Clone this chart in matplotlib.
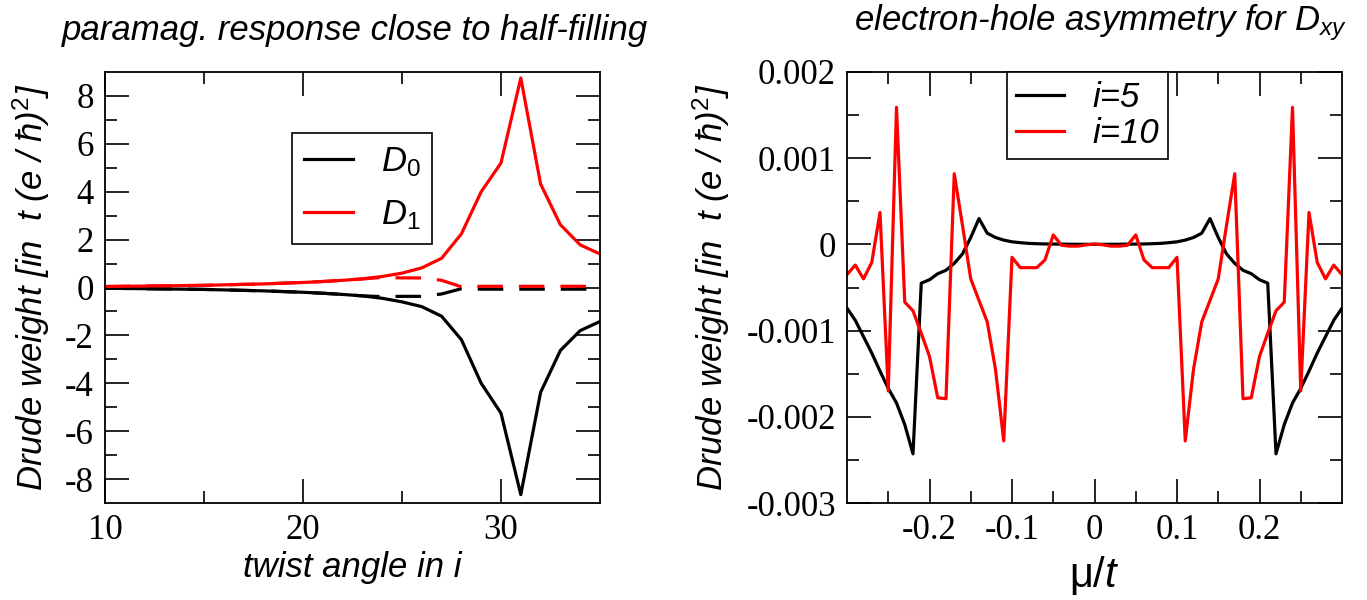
import matplotlib
matplotlib.use("Agg")
import matplotlib.pyplot as plt
from matplotlib.ticker import FixedLocator, FuncFormatter

plt.rcParams['font.family'] = ['Liberation Sans', 'DejaVu Sans']
plt.rcParams['mathtext.fontset'] = 'custom'
plt.rcParams['mathtext.rm'] = 'Liberation Sans'
plt.rcParams['mathtext.it'] = 'Liberation Sans:italic'
plt.rcParams['mathtext.default'] = 'it'
plt.rcParams['axes.unicode_minus'] = False

# left panel: Drude weights vs twist angle
twist = [10, 11, 12, 13, 14, 15, 16, 17, 18, 19, 20, 21, 22, 23,
         24, 25, 26, 27, 28, 29, 30, 31, 32, 33, 34, 35]
d0 = [-0.03, -0.04, -0.05, -0.06, -0.07, -0.08, -0.10, -0.12, -0.14, -0.17,
      -0.20, -0.24, -0.29, -0.35, -0.45, -0.60, -0.80, -1.20, -2.18, -4.00,
      -5.25, -8.65, -4.38, -2.63, -1.80, -1.42]
d1 = [0.04, 0.05, 0.06, 0.07, 0.08, 0.09, 0.11, 0.13, 0.15, 0.18,
      0.21, 0.25, 0.30, 0.36, 0.46, 0.60, 0.82, 1.22, 2.24, 4.00,
      5.20, 8.75, 4.32, 2.62, 1.78, 1.40]
d0_dash = [-0.03, -0.04, -0.05, -0.06, -0.07, -0.08, -0.10, -0.12, -0.14, -0.17,
           -0.20, -0.24, -0.29, -0.35, -0.38, -0.37, -0.37, -0.27, -0.05, -0.07,
           -0.07, -0.07, -0.07, -0.07, -0.07, -0.07]
d1_dash = [0.04, 0.05, 0.06, 0.07, 0.08, 0.09, 0.11, 0.13, 0.15, 0.18,
           0.21, 0.25, 0.30, 0.36, 0.42, 0.40, 0.40, 0.30, 0.03, 0.05,
           0.05, 0.05, 0.05, 0.05, 0.05, 0.05]

# right panel: D_xy vs chemical potential
mu = [-0.30, -0.29, -0.28, -0.27, -0.26, -0.25, -0.24, -0.23, -0.22, -0.21,
      -0.20, -0.19, -0.18, -0.17, -0.16, -0.15, -0.14, -0.13, -0.12, -0.11,
      -0.10, -0.09, -0.08, -0.07, -0.06, -0.05, -0.04, -0.03, -0.02, -0.01,
      0.00, 0.01, 0.02, 0.03, 0.04, 0.05, 0.06, 0.07, 0.08, 0.09,
      0.10, 0.11, 0.12, 0.13, 0.14, 0.15, 0.16, 0.17, 0.18, 0.19,
      0.20, 0.21, 0.22, 0.23, 0.24, 0.25, 0.26, 0.27, 0.28, 0.29, 0.30]
dxy_i5 = [-0.74e-3, -0.88e-3, -1.07e-3, -1.26e-3, -1.47e-3, -1.67e-3, -1.84e-3, -2.09e-3, -2.43e-3, -0.45e-3,
          -0.41e-3, -0.34e-3, -0.30e-3, -0.22e-3, -0.11e-3, 0.08e-3, 0.30e-3, 0.13e-3, 0.08e-3, 0.05e-3,
          0.03e-3, 0.02e-3, 0.012e-3, 0.008e-3, 0.005e-3, 0.004e-3, 0.003e-3, 0.002e-3, 0.001e-3, 0.001e-3,
          0.0,
          0.001e-3, 0.001e-3, 0.002e-3, 0.003e-3, 0.004e-3, 0.005e-3, 0.008e-3, 0.012e-3, 0.02e-3, 0.03e-3,
          0.05e-3, 0.08e-3, 0.13e-3, 0.30e-3, 0.08e-3, -0.11e-3, -0.22e-3, -0.30e-3, -0.34e-3, -0.41e-3,
          -0.45e-3, -2.43e-3, -2.09e-3, -1.84e-3, -1.67e-3, -1.47e-3, -1.26e-3, -1.07e-3, -0.88e-3, -0.74e-3]
dxy_i10 = [-0.35e-3, -0.24e-3, -0.40e-3, -0.21e-3, 0.37e-3, -1.70e-3, 1.59e-3, -0.67e-3, -0.77e-3, -1.03e-3,
           -1.30e-3, -1.78e-3, -1.79e-3, 0.82e-3, 0.22e-3, -0.40e-3, -0.65e-3, -0.90e-3, -1.45e-3, -2.28e-3,
           -0.15e-3, -0.27e-3, -0.27e-3, -0.27e-3, -0.18e-3, 0.11e-3, -0.01e-3, -0.02e-3, -0.02e-3, -0.005e-3,
           0.005e-3,
           -0.005e-3, -0.02e-3, -0.02e-3, -0.01e-3, 0.11e-3, -0.18e-3, -0.27e-3, -0.27e-3, -0.27e-3, -0.15e-3,
           -2.28e-3, -1.45e-3, -0.90e-3, -0.65e-3, -0.40e-3, 0.22e-3, 0.82e-3, -1.79e-3, -1.78e-3, -1.30e-3,
           -1.03e-3, -0.77e-3, -0.67e-3, 1.59e-3, -1.70e-3, 0.37e-3, -0.21e-3, -0.40e-3, -0.24e-3, -0.35e-3]

left_yticks = [-8, -6, -4, -2, 0, 2, 4, 6, 8]
right_yticks = [-0.003, -0.002, -0.001, 0, 0.001, 0.002]
right_ylabels = ['-0.003', '-0.002', '-0.001', '0', '0.001', '0.002']
right_xticks = [-0.2, -0.1, 0, 0.1, 0.2]
right_xlabels = ['-0.2', '-0.1', '0', '0.1', '0.2']

FS = 25
lw = 2.3
ylab = r'Drude weight [in  t (e / ħ)$^{\mathrm{2}}$]'

fig = plt.figure(figsize=(13.67, 6.0), dpi=100)
ax1 = fig.add_axes([105 / 1367, 97 / 600, 495 / 1367, 431 / 600])
ax2 = fig.add_axes([847 / 1367, 97 / 600, 495 / 1367, 431 / 600])


def style(ax):
    for s in ax.spines.values():
        s.set_linewidth(1.3)
    ax.tick_params(which='both', direction='in', top=True, right=True,
                   width=1.2, pad=8)
    ax.tick_params(which='major', length=17)
    ax.tick_params(which='minor', length=8.5)
    for lab in ax.get_xticklabels() + ax.get_yticklabels():
        lab.set_fontfamily('Liberation Serif')
        lab.set_fontsize(FS)


# left
ax1.plot(twist, d0_dash, color='black', lw=lw, dashes=(8, 5))
ax1.plot(twist, d1_dash, color='red', lw=lw, dashes=(8, 5))
ax1.plot(twist, d0, color='black', lw=lw, label=r'$D_{0}$')
ax1.plot(twist, d1, color='red', lw=lw, label=r'$D_{1}$')
ax1.set_xlim(10, 35)
ax1.set_ylim(-9, 9)
ax1.xaxis.set_major_locator(FixedLocator([10, 20, 30]))
ax1.xaxis.set_minor_locator(FixedLocator([15, 25]))
ax1.yaxis.set_major_locator(FixedLocator(left_yticks))
ax1.yaxis.set_minor_locator(FixedLocator([-7, -5, -3, -1, 1, 3, 5, 7]))
ax1.yaxis.set_major_formatter(FuncFormatter(lambda v, p: '%d' % v))
style(ax1)
ax1.set_xlabel('twist angle in i', fontsize=FS, style='italic')
ax1.xaxis.set_label_coords(0.5, -0.112)
ax1.set_ylabel(ylab, fontsize=FS, style='italic')
ax1.yaxis.set_label_coords(-0.107, 0.5)
h, l = ax1.get_legend_handles_labels()
leg1 = ax1.legend(h, l, loc='upper left', bbox_to_anchor=(187 / 495, 1 - 61 / 431),
                  fontsize=FS, frameon=True, fancybox=False, edgecolor='black',
                  framealpha=1, borderpad=0.35, labelspacing=0.55,
                  handlelength=1.4, handletextpad=0.8, borderaxespad=0)
leg1.get_frame().set_linewidth(1.2)

# right
ax2.plot(mu, dxy_i5, color='black', lw=lw, label='i=5')
ax2.plot(mu, dxy_i10, color='red', lw=lw, label='i=10')
ax2.set_xlim(-0.3, 0.3)
ax2.set_ylim(-0.003, 0.002)
ax2.set_xticks(right_xticks, right_xlabels)
ax2.xaxis.set_minor_locator(FixedLocator([-0.25, -0.15, -0.05, 0.05, 0.15, 0.25]))
ax2.set_yticks(right_yticks, right_ylabels)
ax2.yaxis.set_minor_locator(FixedLocator([-0.0025, -0.0015, -0.0005, 0.0005, 0.0015]))
style(ax2)
ax2.set_xlabel(r'μ/$t$', fontsize=30)
ax2.xaxis.set_label_coords(0.5, -0.118)
ax2.set_ylabel(ylab, fontsize=FS, style='italic')
ax2.yaxis.set_label_coords(-0.232, 0.5)
leg2 = ax2.legend(loc='upper left', bbox_to_anchor=(160 / 495, 1.0),
                  fontsize=FS, frameon=True, fancybox=False, edgecolor='black',
                  framealpha=1, borderpad=0.25, labelspacing=0.1,
                  handlelength=1.4, handletextpad=0.8, borderaxespad=0)
for t in leg2.get_texts():
    t.set_style('italic')
leg2.get_frame().set_linewidth(1.2)

fig.text(355 / 1367, 1 - 40 / 600, 'paramag. response close to half-filling',
         fontsize=FS, style='italic', ha='center', va='baseline')
fig.text(1100 / 1367, 1 - 30 / 600, r'electron-hole asymmetry for $D_{xy}$',
         fontsize=FS, style='italic', ha='center', va='baseline')

fig.savefig('out.png', dpi=100)
